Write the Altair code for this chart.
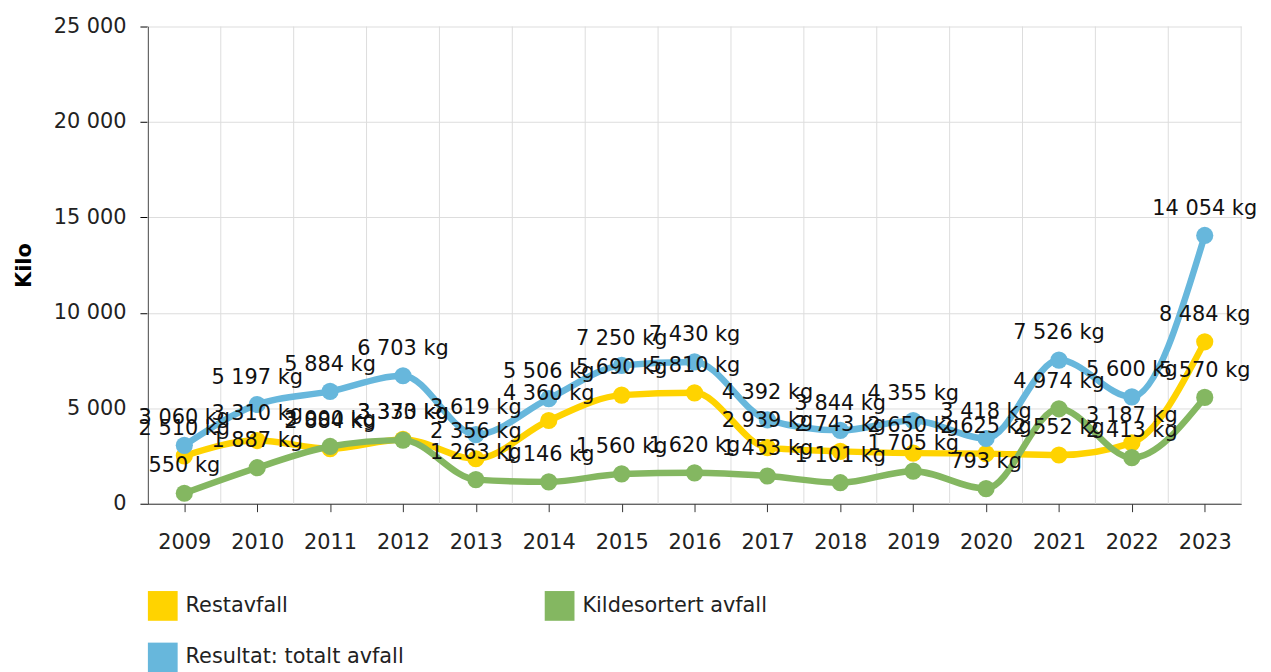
import altair as alt
import pandas as pd

years = [2009, 2010, 2011, 2012, 2013, 2014, 2015, 2016, 2017, 2018, 2019, 2020, 2021, 2022, 2023]
restavfall = [2510, 3310, 2884, 3370, 2356, 4360, 5690, 5810, 2939, 2743, 2650, 2625, 2552, 3187, 8484]
kildesortert = [550, 1887, 3000, 3333, 1263, 1146, 1560, 1620, 1453, 1101, 1705, 793, 4974, 2413, 5570]
totalt = [3060, 5197, 5884, 6703, 3619, 5506, 7250, 7430, 4392, 3844, 4355, 3418, 7526, 5600, 14054]

series_names = ["Restavfall", "Kildesortert avfall", "Resultat: totalt avfall"]
series_colors = ["#FFD300", "#84B761", "#67B7DC"]
# legend entries are laid out column by column, so list them in that order
legend_order = ["Restavfall", "Resultat: totalt avfall", "Kildesortert avfall"]
y_ticks = [0, 5000, 10000, 15000, 20000, 25000]
grid_x = [y - 0.5 for y in years] + [years[-1] + 0.5]

rows = []
for name, vals in zip(series_names, [restavfall, kildesortert, totalt]):
    for yr, v in zip(years, vals):
        rows.append({"year": yr, "value": v, "series": name,
                     "label": f"{v:,}".replace(",", " ") + " kg"})
df = pd.DataFrame(rows)

FONT = "DejaVu Sans"
FS = 21

xscale = alt.Scale(domain=[years[0] - 0.5, years[-1] + 0.5], nice=False, zero=False)
yscale = alt.Scale(domain=[0, 25000], nice=False)
color_map = dict(zip(series_names, series_colors))
cscale = alt.Scale(domain=legend_order, range=[color_map[n] for n in legend_order])

x_axis = alt.Axis(values=years, format="d", grid=False, title=None, labelFontSize=FS,
                  labelFont=FONT, labelColor="#222222", labelPadding=20,
                  tickSize=8, tickColor="#333333", domainColor="#333333")
y_axis = alt.Axis(values=y_ticks, title="Kilo", titleFontSize=FS, titleFont=FONT,
                  titleFontWeight="bold", titleColor="#000000", titlePadding=19,
                  labelFontSize=FS, labelFont=FONT, labelColor="#222222",
                  labelExpr="replace(format(datum.value, ','), ',', ' ')",
                  labelPadding=14, tickSize=8, tickColor="#000000",
                  domainColor="#000000", gridColor="#DDDDDD")

legend = alt.Legend(title=None, orient="none", legendX=0, legendY=569,
                    columns=2, symbolType="square", symbolSize=900,
                    symbolStrokeWidth=0, symbolOpacity=1, labelFontSize=FS,
                    labelFont=FONT, labelColor="#222222", rowPadding=22,
                    columnPadding=142, labelOffset=8, labelLimit=400)

base = alt.Chart(df)

grid_layer = alt.Chart(pd.DataFrame({"g": grid_x})).mark_rule(color="#DDDDDD", strokeWidth=1).encode(
    x=alt.X("g:Q", scale=xscale, axis=x_axis)
)

legend_layer = base.mark_point(filled=True, size=0, opacity=0).encode(
    x=alt.X("year:Q", scale=xscale, axis=x_axis),
    y=alt.Y("value:Q", scale=yscale, axis=y_axis),
    color=alt.Color("series:N", scale=cscale, legend=legend)
)

layers = [grid_layer, legend_layer]
for name in series_names:
    sub = base.transform_filter(alt.datum.series == name)
    layers.append(sub.mark_line(interpolate="monotone", strokeWidth=6.5).encode(
        x="year:Q", y="value:Q",
        color=alt.Color("series:N", scale=cscale, legend=legend),
        order=alt.Order("year:Q")
    ))
    layers.append(sub.mark_point(filled=True, size=300, opacity=1, strokeWidth=0).encode(
        x="year:Q", y="value:Q",
        color=alt.Color("series:N", scale=cscale, legend=legend)
    ))

labels = base.mark_text(dy=-27, fontSize=FS, font=FONT, color="#111111").encode(
    x="year:Q", y="value:Q", text="label:N"
)
layers.append(labels)

chart = alt.layer(*layers).properties(
    width=1102, height=481, background="white"
).configure_view(stroke=None).configure_legend(symbolOpacity=1)

chart.save("out.html", embed_options={"renderer": "svg", "actions": False})
